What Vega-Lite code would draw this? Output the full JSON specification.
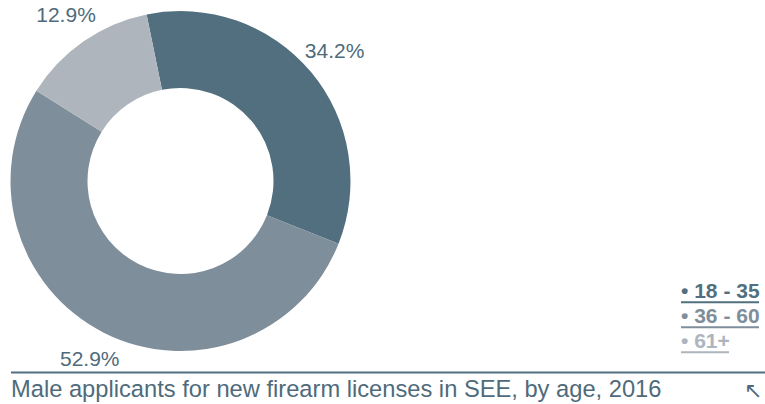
{
  "$schema": "https://vega.github.io/schema/vega-lite/v6.json",
  "padding": 0,
  "background": "#ffffff",
  "columns": 2,
  "bounds": "flush",
  "align": "each",
  "spacing": 0,
  "config": {"view": {"stroke": null}, "font": "Liberation Sans"},
  "datasets": {
    "ages": [
      {"age": "18 - 35", "share": 0.342, "label": "• 18 - 35"},
      {"age": "36 - 60", "share": 0.529, "label": "• 36 - 60"},
      {"age": "61+", "share": 0.129, "label": "• 61+"}
    ],
    "caption": [{"text": "Male applicants for new firearm licenses in SEE, by age, 2016"}]
  },
  "concat": [
    {
      "width": 361,
      "height": 362,
      "data": {"name": "ages"},
      "encoding": {
        "theta": {"field": "share", "type": "quantitative", "stack": true, "scale": {"range": [-0.2007, 6.0825]}},
        "order": {"field": "age", "sort": "ascending"}
      },
      "layer": [
        {
          "mark": {"type": "arc", "innerRadius": 93, "outerRadius": 170},
          "encoding": {
            "color": {"field": "age", "type": "nominal", "scale": {"domain": ["18 - 35", "36 - 60", "61+"], "range": ["#526f7f", "#7f8e9b", "#aeb5bd"]}, "legend": null}
          }
        },
        {
          "mark": {"type": "text", "radius": 201, "fontSize": 21, "fill": "#4f6b7b"},
          "encoding": {
            "text": {"field": "share", "type": "quantitative", "format": ".1%"},
            "detail": {"field": "age", "type": "nominal"}
          }
        }
      ]
    },
    {
      "width": 398,
      "height": 362,
      "data": {"name": "ages"},
      "encoding": {
        "y": {"field": "age", "type": "nominal", "scale": {"type": "point", "domain": ["18 - 35", "36 - 60", "61+"], "range": [298.3, 348.3], "padding": 0}, "axis": null},
        "color": {"field": "age", "type": "nominal", "scale": {"domain": ["18 - 35", "36 - 60", "61+"], "range": ["#50707f", "#7d8d99", "#abb3bb"]}, "legend": null}
      },
      "layer": [
        {
          "mark": {"type": "text", "x": 320, "align": "left", "baseline": "alphabetic", "fontSize": 21, "fontWeight": "bold"},
          "encoding": {"text": {"field": "label", "type": "nominal"}}
        },
        {
          "mark": {"type": "rule", "x": 320, "x2": {"expr": "320 + (10.5 + 7.5 * length(datum.label))"}, "yOffset": 4, "strokeWidth": 2}
        }
      ]
    },
    {
      "width": 361,
      "height": 42,
      "data": {"name": "caption"},
      "layer": [
        {
          "mark": {"type": "rule", "stroke": "#52707f", "strokeWidth": 2},
          "encoding": {"x": {"value": 11}, "x2": {"value": 765}, "y": {"value": 10.5}}
        },
        {
          "mark": {"type": "text", "x": 11, "y": 35.3, "align": "left", "baseline": "alphabetic", "fontSize": 23.7, "color": "#4f6b7b"},
          "encoding": {"text": {"field": "text", "type": "nominal"}}
        },
        {
          "mark": {"type": "text", "x": 753, "y": 36, "align": "center", "baseline": "alphabetic", "fontSize": 22, "color": "#4f6b7b", "text": "↖"},
          "encoding": {}
        }
      ]
    }
  ]
}
